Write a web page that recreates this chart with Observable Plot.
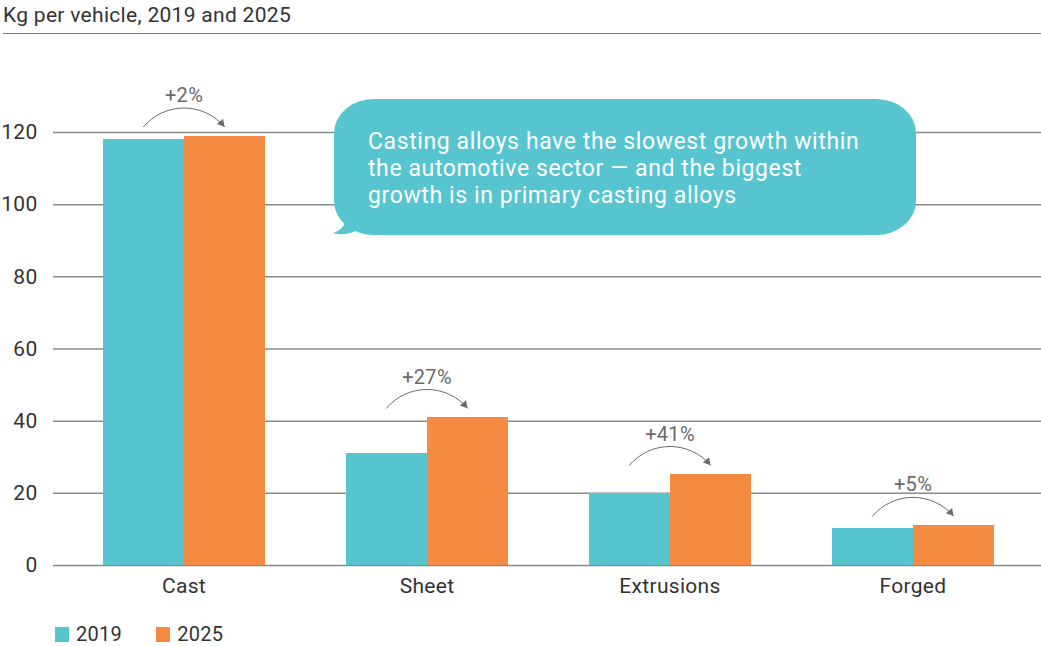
<!DOCTYPE html>
<html>
<head>
<meta charset="utf-8">
<script src="https://cdn.jsdelivr.net/npm/d3@7"></script>
<script src="https://cdn.jsdelivr.net/npm/@observablehq/plot@0.6"></script>
<style>
  html, body { margin: 0; padding: 0; background: #fff; }
  body { width: 1041px; height: 646px; position: relative; overflow: hidden; font-family: Roboto, "Open Sans", sans-serif; color: #333; }
  #title { height: 33px; margin-left: 3px; border-bottom: 1px solid #777; font-size: 21px; letter-spacing: 0.3px; line-height: 30px; color: #333; }
  #chart svg { display: block; }
  #legend { display: flex; margin-left: 55px; margin-top: 5px; font-size: 20px; letter-spacing: 0.3px; color: #333; align-items: center; height: 30px; }
  .item { display: flex; align-items: center; margin-right: 34px; }
  .sw { width: 14px; height: 15px; margin-right: 7px; }
  #bubble { position: absolute; left: 334px; top: 99px; width: 582px; height: 136px; background: #56C5D0; border-radius: 40px / 34px; box-sizing: border-box; padding: 29px 0 0 34px; color: #fff; font-size: 23px; letter-spacing: 0.6px; line-height: 27px; }
  #tail { position: absolute; left: 0; top: 0; pointer-events: none; }
</style>
</head>
<body>
<div id="title">Kg per vehicle, 2019 and 2025</div>
<div id="chart"></div>
<div id="legend"></div>
<svg id="tail" width="1041" height="646"><path d="M347,212 C347,224 342,230 333,233 C344,236 352,233 360,229 Z" fill="#56C5D0"/></svg>
<div id="bubble">Casting alloys have the slowest growth within<br>the automotive sector — and the biggest<br>growth is in primary casting alloys</div>
<script>
const categories = ["Cast", "Sheet", "Extrusions", "Forged"];
const years = ["2019", "2025"];
const values2019 = [118, 31.1, 20, 10.3];
const values2025 = [119, 41, 25.2, 11.1];
const growthLabels = ["+2%", "+27%", "+41%", "+5%"];
const yTicks = [0, 20, 40, 60, 80, 100, 120];
const colors = ["#56C5D0", "#F58A42"];

const rows = categories.flatMap((c, i) => [
  {cat: c, i, year: "2019", value: values2019[i]},
  {cat: c, i, year: "2025", value: values2025[i]}
]);
const arrows = categories.map((c, i) => ({
  cat: c, i, label: growthLabels[i],
  top: Math.max(values2019[i], values2025[i]) + 2.6
}));
const bend = 50;

const chart = Plot.plot({
  width: 1041,
  height: 580,
  marginTop: 98,
  marginBottom: 49,
  marginLeft: 53,
  marginRight: 0,
  style: {fontFamily: "Roboto, sans-serif", fontSize: "21px", letterSpacing: "0.3px", color: "#333", background: "transparent"},
  x: {type: "linear", domain: [-0.5, 3.5], insetLeft: 9, insetRight: 7, ticks: [0, 1, 2, 3], tickFormat: d => categories[d], tickSize: 0, tickPadding: 13, label: null},
  y: {type: "linear", domain: [0, 120], ticks: yTicks, tickSize: 0, tickPadding: 16, label: null},
  color: {domain: years, range: colors},
  marks: [
    Plot.ruleY(yTicks, {stroke: "#8a8a8a", strokeWidth: 1.5}),
    Plot.rectY(rows, {
      x1: d => d.i + (d.year === "2019" ? -1/3 : 0),
      x2: d => d.i + (d.year === "2019" ? 0 : 1/3),
      y: "value",
      fill: "year",
      inset: 0,
      shapeRendering: "crispEdges"
    }),
    Plot.arrow(arrows, {
      x1: d => d.i - 1/6, x2: d => d.i + 1/6,
      y1: "top", y2: "top",
      bend, stroke: "#6a6a6a", strokeWidth: 1, headLength: 0
    }),
    Plot.dot(arrows, {
      x: d => d.i + 1/6, y: "top",
      symbol: "triangle", r: 3, fill: "#6a6a6a", stroke: null,
      rotate: 90 + bend, dx: -3, dy: -3.6
    }),
    Plot.text(arrows, {x: "i", y: "top", text: "label", dy: -31, fill: "#6a6a6a", fontSize: 20})
  ]
});
document.getElementById("chart").appendChild(chart);

const legend = document.getElementById("legend");
years.forEach((y, k) => {
  const it = document.createElement("div");
  it.className = "item";
  it.innerHTML = `<span class="sw" style="background:${colors[k]}"></span><span>${y}</span>`;
  legend.appendChild(it);
});
</script>
</body>
</html>
